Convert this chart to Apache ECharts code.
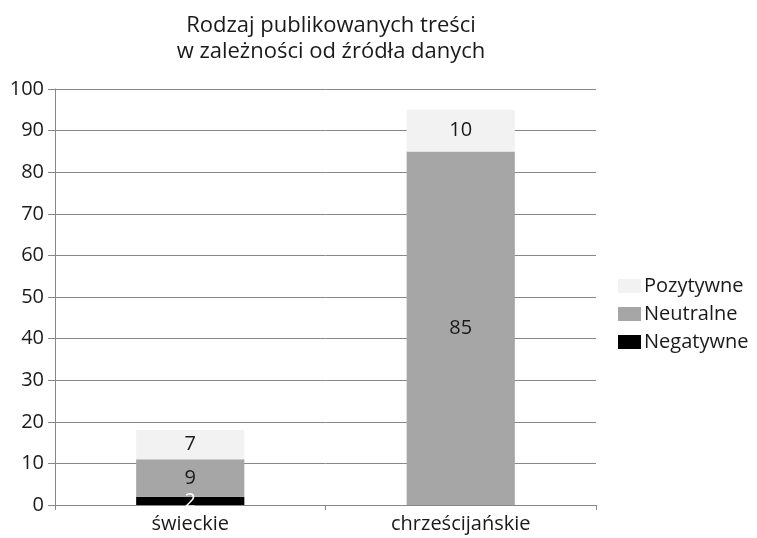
<!DOCTYPE html>
<html>
<head>
<meta charset="utf-8">
<script src="https://cdn.jsdelivr.net/npm/echarts@6/dist/echarts.min.js"></script>
<style>
  html, body { margin: 0; padding: 0; background: #fff; }
  #chart { width: 757px; height: 538px; }
</style>
</head>
<body>
<div id="chart"></div>
<script>
const categories = ['świeckie', 'chrześcijańskie']
const negatywne = [2, 0]
const neutralne = [9, 85]
const pozytywne = [7, 10]

const font = 'Open Sans'
const chart = echarts.init(document.getElementById('chart'))

const seriesOf = (name, data, color, labelColor) => ({
  name,
  type: 'bar',
  stack: 'total',
  barWidth: '40%',
  data,
  itemStyle: { color },
  label: {
    show: true,
    position: 'inside',
    color: labelColor,
    fontFamily: font,
    fontSize: 20,
    formatter: p => (p.value ? p.value : '')
  }
})

chart.setOption({
  animation: false,
  title: {
    text: 'Rodzaj publikowanych treści\nw zależności od źródła danych',
    left: 326,
    textAlign: 'center',
    top: 8,
    textStyle: { fontFamily: font, fontSize: 22, fontWeight: 'normal', color: '#1a1a1a', lineHeight: 26 }
  },
  legend: {
    orient: 'vertical',
    left: 613,
    top: 271,
    icon: 'rect',
    itemWidth: 23,
    itemHeight: 14,
    itemGap: 8,
    data: ['Pozytywne', 'Neutralne', 'Negatywne'],
    textStyle: { fontFamily: font, fontSize: 20, color: '#1a1a1a', padding: [0, 0, 0, -2] }
  },
  grid: { left: 55, right: 161, top: 89, bottom: 33 },
  xAxis: {
    type: 'category',
    data: categories,
    axisLine: { lineStyle: { color: '#878787', width: 1 } },
    axisTick: { show: true, length: 5, lineStyle: { color: '#878787' } },
    axisLabel: { fontFamily: font, fontSize: 20, color: '#1a1a1a', margin: 9 }
  },
  yAxis: {
    type: 'value',
    min: 0,
    max: 100,
    interval: 10,
    axisLine: { show: true, lineStyle: { color: '#878787', width: 1 } },
    axisTick: { show: true, length: 7, lineStyle: { color: '#878787' } },
    axisLabel: { fontFamily: font, fontSize: 20, color: '#1a1a1a', margin: 11 },
    splitLine: { lineStyle: { color: '#878787', width: 1 } }
  },
  series: [
    seriesOf('Negatywne', negatywne, '#000000', '#ffffff'),
    seriesOf('Neutralne', neutralne, '#a6a6a6', '#1a1a1a'),
    seriesOf('Pozytywne', pozytywne, '#f2f2f2', '#1a1a1a')
  ]
})
</script>
</body>
</html>
